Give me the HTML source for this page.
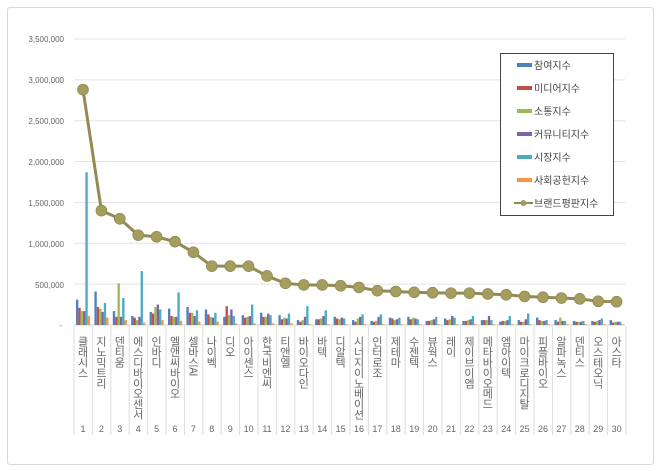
<!DOCTYPE html>
<html><head><meta charset="utf-8"><style>
body{margin:0;background:#fff;width:660px;height:471px;overflow:hidden;font-family:"Liberation Sans","Noto Sans CJK KR",sans-serif;}
.lab{position:absolute;top:336px;width:18px;writing-mode:vertical-lr;text-orientation:mixed;font-size:11px;line-height:18px;color:#666;font-family:"Noto Sans CJK KR","Liberation Sans",sans-serif;letter-spacing:-0.6px;}
</style></head><body>
<div style="position:absolute;left:7px;top:7px;width:645px;height:456px;border:1px solid #d9d9d9;border-radius:3px;"></div>
<svg id="s" width="660" height="471" style="position:absolute;left:0;top:0" font-family="Liberation Sans, sans-serif">
<g font-size="8" fill="#666" text-anchor="end">
<text x="64" y="42">3,500,000</text><text x="64" y="83">3,000,000</text><text x="64" y="124">2,500,000</text><text x="64" y="165">2,000,000</text><text x="64" y="206">1,500,000</text><text x="64" y="247">1,000,000</text><text x="64" y="288">500,000</text><text x="62" y="328">-</text>
</g>
<g id="grid"></g><g id="bars"></g><g id="line"></g>
<g font-size="9" fill="#666" text-anchor="middle" id="nums">
<text x="83" y="432">1</text><text x="101.4" y="432">2</text><text x="119.8" y="432">3</text><text x="138.2" y="432">4</text><text x="156.6" y="432">5</text><text x="175" y="432">6</text><text x="193.4" y="432">7</text><text x="211.8" y="432">8</text><text x="230.2" y="432">9</text><text x="248.6" y="432">10</text><text x="267" y="432">11</text><text x="285.4" y="432">12</text><text x="303.8" y="432">13</text><text x="322.2" y="432">14</text><text x="340.6" y="432">15</text><text x="359" y="432">16</text><text x="377.4" y="432">17</text><text x="395.8" y="432">18</text><text x="414.2" y="432">19</text><text x="432.6" y="432">20</text><text x="451" y="432">21</text><text x="469.4" y="432">22</text><text x="487.8" y="432">23</text><text x="506.2" y="432">24</text><text x="524.6" y="432">25</text><text x="543" y="432">26</text><text x="561.4" y="432">27</text><text x="579.8" y="432">28</text><text x="598.2" y="432">29</text><text x="616.6" y="432">30</text>
</g>
<rect x="500.5" y="53.5" width="113" height="162" fill="#fff" stroke="#444" stroke-width="1"/>
<g font-size="10" fill="#444" font-family="Noto Sans CJK KR, sans-serif">
<rect x="517" y="63" width="15" height="4" fill="#4f81bd"/><text x="534" y="69">참여지수</text>
<rect x="517" y="86" width="15" height="4" fill="#c0504d"/><text x="534" y="92">미디어지수</text>
<rect x="517" y="109" width="15" height="4" fill="#9bbb59"/><text x="534" y="115">소통지수</text>
<rect x="517" y="132" width="15" height="4" fill="#8064a2"/><text x="534" y="138">커뮤니티지수</text>
<rect x="517" y="155" width="15" height="4" fill="#4bacc6"/><text x="534" y="161">시장지수</text>
<rect x="517" y="178" width="15" height="4" fill="#f79646"/><text x="534" y="184">사회공헌지수</text>
<line x1="514" y1="203" x2="533" y2="203" stroke="#948a54" stroke-width="2"/><circle cx="523.5" cy="203" r="3" fill="#a09a5c"/><text x="534" y="207">브랜드평판지수</text>
</g>
</svg>
<div id="labs"></div>
<script>
var names=["클래시스","지노믹트리","덴티움","에스디바이오센서","인바디","엘앤씨바이오","셀바스AI","나이벡","디오","아이센스","한국비엔씨","티앤엘","바이오다인","바텍","디알텍","시너지이노베이션","인터로조","제테마","수젠텍","뷰웍스","레이","제이브이엠","메타바이오메드","엠아이텍","마이크로디지탈","피플바이오","알파녹스","덴티스","오스테오닉","아스타"];
var line=[2880,1400,1300,1100,1080,1020,890,720,720,720,600,510,490,490,480,460,420,410,400,395,390,390,380,370,350,340,330,320,290,285];
var B=[[310,210,170,170,1870,110],[410,220,200,160,270,90],[170,100,510,100,330,60],[110,90,60,100,660,30],[160,140,220,250,190,60],[200,110,100,100,400,50],[220,150,150,110,180,40],[190,130,100,90,150,40],[100,230,120,190,110,20],[120,90,100,110,250,20],[150,100,100,140,120,20],[120,70,90,80,140,20],[60,40,60,100,230,10],[70,70,80,110,180,10],[100,80,70,90,80,10],[60,40,80,100,130,10],[50,40,50,100,130,10],[90,80,60,70,90,10],[100,70,90,80,70,10],[50,50,60,70,100,10],[80,60,70,110,90,10],[50,50,60,70,110,10],[60,60,60,110,60,10],[40,50,50,60,110,10],[60,40,40,70,140,10],[90,60,50,50,60,10],[60,40,90,50,50,10],[50,40,40,40,50,10],[50,40,50,60,80,10],[60,30,40,40,40,10]];
var col=["#4f81bd","#c0504d","#9bbb59","#8064a2","#4bacc6","#f79646"];
var ns="http://www.w3.org/2000/svg";
function el(t,a,p){var e=document.createElementNS(ns,t);for(var k in a)e.setAttribute(k,a[k]);document.getElementById(p).appendChild(e);}
function Y(v){return 325-v*1000*286/3500000;}
for(var i=0;i<=7;i++){var y=325-i*40.86;el("line",{x1:74,x2:625,y1:y,y2:y,stroke:i?"#e4e4e4":"#d0d0d0","stroke-width":1},"grid");}
for(var c=0;c<=30;c++){var x=74+c*18.4;el("line",{x1:x,x2:x,y1:326,y2:435,stroke:"#dcdcdc","stroke-width":1},"grid");}
var pts=[];
for(var c=0;c<30;c++){var cx=83+c*18.4;
 for(var s=0;s<6;s++){var v=B[c][s];el("rect",{x:cx-7+s*2.35,y:Y(v),width:2.35,height:325-Y(v),fill:col[s]},"bars");}
 pts.push(cx+","+Y(line[c]));
 var d=document.createElement("div");d.className="lab";d.style.left=(cx-9)+"px";d.textContent=names[c];document.getElementById("labs").appendChild(d);
}
el("polyline",{points:pts.join(" "),fill:"none",stroke:"#948a54","stroke-width":3},"line");
for(var c=0;c<30;c++){el("circle",{cx:83+c*18.4,cy:Y(line[c]),r:5.5,fill:"#a49d5e",stroke:"#8a8450","stroke-width":0.6},"line");}
</script>
</body></html>
